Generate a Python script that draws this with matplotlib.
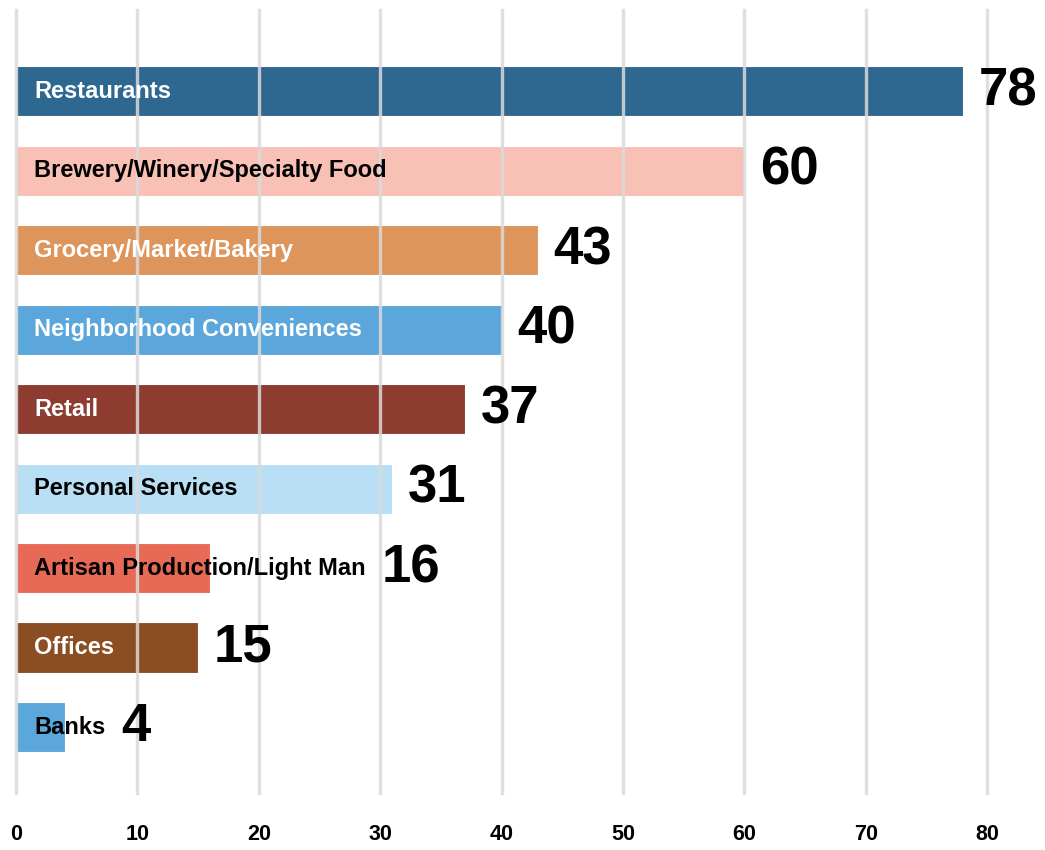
import matplotlib.pyplot as plt
import numpy as np

plt.rcParams['font.family'] = ['Liberation Sans', 'DejaVu Sans']

# Business counts by category
categories = ['Restaurants', 'Brewery/Winery/Specialty Food', 'Grocery/Market/Bakery',
              'Neighborhood Conveniences', 'Retail', 'Personal Services',
              'Artisan Production/Light Man', 'Offices', 'Banks']
counts = [78, 60, 43, 40, 37, 31, 16, 15, 4]
bar_colors = ['#2e6890', '#f9c1b6', '#dd955b', '#5ba7db', '#8e3b30',
              '#b9dff5', '#e66a55', '#8b4e22', '#5ba7db']
text_colors = ['white', 'black', 'white', 'white', 'white',
               'black', 'black', 'white', 'black']
x_ticks = [0, 10, 20, 30, 40, 50, 60, 70, 80]

fig = plt.figure(figsize=(10.45, 8.5), dpi=100)
ax = fig.add_axes([16 / 1045, 1 - 793 / 850, 971 / 1045, 783 / 850])

y_pos = np.arange(len(categories))
ax.barh(y_pos, counts, height=0.63, color=bar_colors,
        edgecolor='#ffffff', linewidth=0.8, zorder=1)

ax.set_xlim(0, 80)
ax.set_ylim(8.83, -1.02)

# light grid drawn over the bars
for t in x_ticks:
    ax.axvline(t, color='#dadada', linewidth=2.4, alpha=0.85, zorder=3,
               clip_on=False)

fig.canvas.draw()
renderer = fig.canvas.get_renderer()
inv = ax.transData.inverted()

for i, (name, val) in enumerate(zip(categories, counts)):
    txt = ax.text(1.5, i, name, ha='left', va='center', fontsize=17,
                  fontweight='bold', color=text_colors[i], zorder=4)
    bb = txt.get_window_extent(renderer)
    text_end = inv.transform((bb.x1, bb.y0))[0]
    end = max(val, text_end)
    ax.text(end + 1.3, i, str(val), ha='left', va='center', fontsize=38,
            fontweight='bold', color='black', zorder=4)

ax.set_xticks(x_ticks)
ax.set_xticklabels([str(t) for t in x_ticks], fontsize=15.5, fontweight='bold')
ax.tick_params(axis='x', length=0, pad=22)
ax.set_yticks([])
for s in ax.spines.values():
    s.set_visible(False)

fig.savefig('out.png', dpi=100)
